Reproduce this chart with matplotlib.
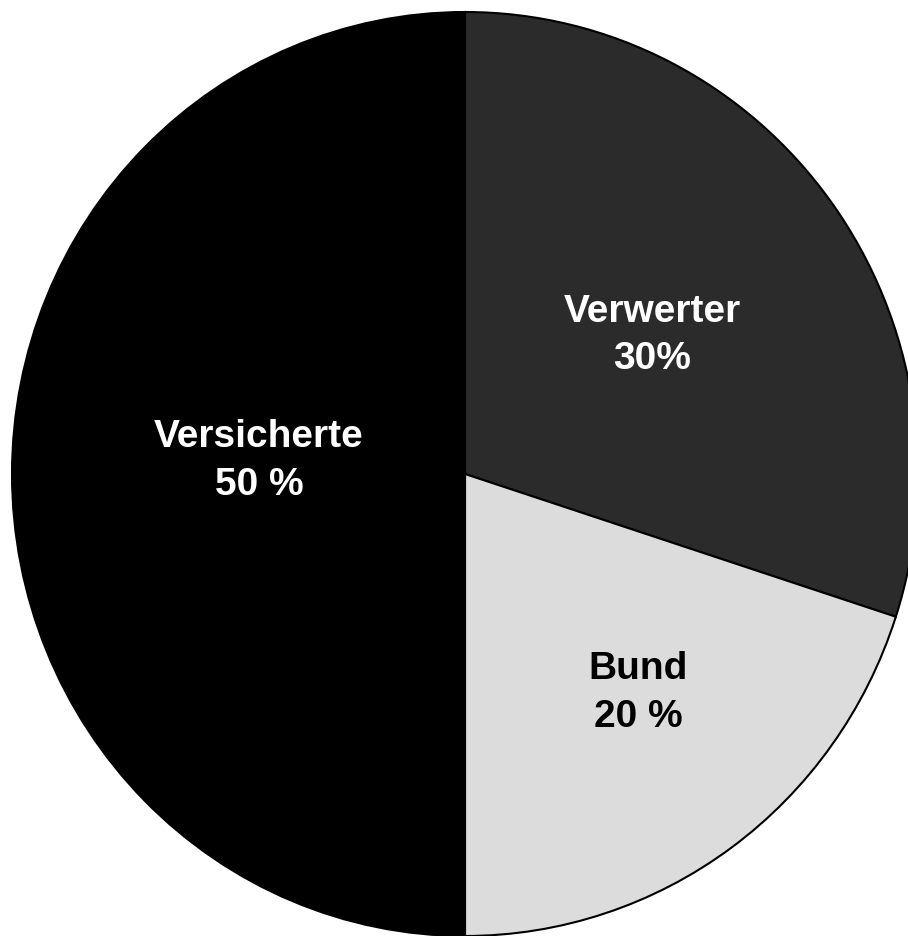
import matplotlib
matplotlib.use('Agg')
import matplotlib.pyplot as plt

# Data (clockwise from 12 o'clock)
labels = ['Verwerter\n30%', 'Bund\n20 %', 'Versicherte\n50 %']
shares = [30, 20, 50]
colors = ['#2b2b2b', '#dcdcdc', '#000000']
text_colors = ['white', 'black', 'white']
# label centres in pie units (x, y)
label_pos = [(0.413, 0.302), (0.382, -0.472), (-0.455, 0.031)]

fig = plt.figure(figsize=(9.08, 9.37), dpi=100)
fig.patch.set_facecolor('white')

# circle in the scan is a touch taller than wide, so no equal aspect
ax = fig.add_axes([12 / 908, 0.0, 906 / 908, 924 / 937])
wedges, _ = ax.pie(shares, colors=colors, startangle=90, counterclock=False,
                   wedgeprops=dict(edgecolor='black', linewidth=1.5))
ax.set_aspect('auto')
ax.set_xlim(-1, 1)
ax.set_ylim(-1, 1)
ax.axis('off')

for lab, (x, y), c in zip(labels, label_pos, text_colors):
    ax.text(x, y, lab, ha='center', va='center', color=c, fontsize=28,
            fontweight='bold', family='Liberation Sans', linespacing=1.42)

plt.savefig('out.png', dpi=100, facecolor='white')
